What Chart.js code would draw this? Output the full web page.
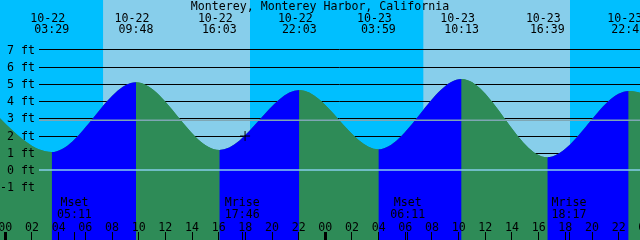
<!DOCTYPE html>
<html>
<head>
<meta charset="utf-8">
<script src="https://cdn.jsdelivr.net/npm/chart.js@4.4.0/dist/chart.umd.min.js"></script>
<style>
  html, body { margin: 0; padding: 0; background: #00BFFF; }
  #wrap { width: 640px; height: 240px; }
</style>
</head>
<body>
<div id="wrap"><canvas id="tideChart"></canvas></div>
<script>
// Tide highs / lows, hours counted from 10-22 00:00 (first and last are off screen)
const tideHours = [-2.75, 3.48, 9.80, 16.05, 22.05, 27.98, 34.22, 40.65, 46.75, 53.2];
const tideFeet  = [4.70, 1.04, 5.09, 1.16, 4.64, 1.20, 5.28, 0.74, 4.58, 1.30];

// labels at the top for the visible highs / lows
const eventHours = [3.48, 9.80, 16.05, 22.05, 27.98, 34.22, 40.65, 46.75];
const eventDates = ['10-22', '10-22', '10-22', '10-22', '10-23', '10-23', '10-23', '10-23'];
const eventTimes = ['03:29', '09:48', '16:03', '22:03', '03:59', '10:13', '16:39', '22:45'];

// daylight
const sunrise = [7.33, 31.35];
const sunset  = [18.35, 42.35];

// moon
const moonHours = [5.18, 17.77, 30.18, 42.28];
const moonKinds = ['Mset', 'Mrise', 'Mset', 'Mrise'];
const moonTimes = ['05:11', '17:46', '06:11', '18:17'];

// current time marker
const nowHour = 17.98;
const nowFeet = 1.97;

// axes
const feetTicks = [7, 6, 5, 4, 3, 2, 1, 0, -1];
const feetLabels = ['7 ft', '6 ft', '5 ft', '4 ft', '3 ft', '2 ft', '1 ft', '0 ft', '-1 ft'];
const hourTicks = [0, 2, 4, 6, 8, 10, 12, 14, 16, 18, 20, 22, 24, 26, 28, 30, 32, 34, 36, 38, 40, 42, 44, 46, 48];
const hourLabels = ['00', '02', '04', '06', '08', '10', '12', '14', '16', '18', '20', '22',
                    '00', '02', '04', '06', '08', '10', '12', '14', '16', '18', '20', '22', '00'];
const meanLevel = 2.88;

const title = 'Monterey, Monterey Harbor, California';

const NIGHT = '#00BFFF';
const DAY = '#87CEEB';
const RISING = '#0000FF';
const FALLING = '#2E8B57';
const FONT = '11.6px "DejaVu Sans Mono", "Liberation Mono", monospace';

function hline(ctx, x0, x1, py, color, width) {
    ctx.strokeStyle = color;
    ctx.lineWidth = width;
    ctx.beginPath();
    ctx.moveTo(x0, py);
    ctx.lineTo(x1, py);
    ctx.stroke();
}

const tideDecor = {
    id: 'tideDecor',
    beforeDatasetsDraw(chart) {
        const { ctx, chartArea: a, scales: { x, y } } = chart;
        ctx.save();
        ctx.fillStyle = NIGHT;
        ctx.fillRect(a.left, a.top, a.right - a.left, a.bottom - a.top);
        ctx.fillStyle = DAY;
        sunrise.forEach((r, i) => {
            const x0 = x.getPixelForValue(r);
            const x1 = x.getPixelForValue(sunset[i]);
            ctx.fillRect(x0, a.top, x1 - x0, a.bottom - a.top);
        });
        // black level lines sit behind the water
        feetTicks.forEach(v => {
            const py = Math.round(y.getPixelForValue(v)) + 0.5;
            hline(ctx, 39, a.right, py, '#000', 1);
        });
        ctx.restore();
    },
    afterDatasetsDraw(chart) {
        const { ctx, chartArea: a, scales: { x, y } } = chart;
        ctx.save();
        // zero line and mean level over the water
        hline(ctx, 39, a.right, y.getPixelForValue(0), '#87CEEB', 1.5);
        hline(ctx, 39, a.right, y.getPixelForValue(meanLevel), '#7FA6B4', 1.5);

        ctx.font = FONT;
        ctx.fillStyle = '#000';

        // y labels
        ctx.textAlign = 'right';
        feetTicks.forEach((v, i) => {
            ctx.fillText(feetLabels[i], 35, y.getPixelForValue(v) + 4.2);
        });

        // title
        ctx.textAlign = 'center';
        ctx.fillText(title, 320, 10);

        // high / low times
        eventHours.forEach((h, i) => {
            const px = x.getPixelForValue(h);
            ctx.fillText(eventDates[i], px - 4, 21.5);
            ctx.fillText(eventTimes[i], px, 33);
        });

        // moon
        moonHours.forEach((h, i) => {
            const px = x.getPixelForValue(h);
            ctx.fillText(moonKinds[i], px, 206);
            ctx.fillText(moonTimes[i], px, 218);
        });

        // hour labels and ticks
        hourTicks.forEach((h, i) => {
            const px = x.getPixelForValue(h);
            ctx.fillText(hourLabels[i], px, 230.5);
            const w = (h % 24 === 0) ? 3 : 1;
            ctx.fillRect(Math.round(px - w / 2), 232, w, 8);
        });
        moonHours.forEach(h => {
            const px = x.getPixelForValue(h);
            ctx.fillRect(Math.round(px - 0.5), 232, 1, 8);
        });
        ctx.restore();
    }
};

const tidePoints = tideHours.map((h, i) => ({ x: h, y: tideFeet[i] }));

const tideCtx = document.getElementById('tideChart').getContext('2d');
const tideChart = new Chart(tideCtx, {
    type: 'line',
    data: {
        datasets: [{
            label: 'Now',
            data: [{ x: nowHour, y: nowFeet }],
            showLine: false,
            pointStyle: 'cross',
            pointRadius: 5,
            borderColor: '#000',
            borderWidth: 1,
            fill: false
        }, {
            label: 'Tide',
            data: tidePoints,
            cubicInterpolationMode: 'monotone',
            borderWidth: 0,
            borderColor: 'rgba(0,0,0,0)',
            pointRadius: 0,
            fill: 'start',
            backgroundColor: FALLING,
            segment: {
                backgroundColor: c => c.p1.parsed.y > c.p0.parsed.y ? RISING : FALLING
            }
        }, {
            // plain water underneath, hides seams between segments
            label: 'Water',
            data: tidePoints,
            cubicInterpolationMode: 'monotone',
            borderWidth: 0,
            borderColor: 'rgba(0,0,0,0)',
            pointRadius: 0,
            fill: 'start',
            backgroundColor: FALLING
        }]
    },
    options: {
        responsive: true,
        maintainAspectRatio: false,
        animation: false,
        devicePixelRatio: 1,
        layout: { padding: 0, autoPadding: false },
        plugins: {
            legend: { display: false },
            tooltip: { enabled: false }
        },
        scales: {
            x: { type: 'linear', min: -0.4, max: 47.6, display: false },
            y: { type: 'linear', min: -4.06, max: 9.86, display: false }
        }
    },
    plugins: [tideDecor]
});
</script>
</body>
</html>
